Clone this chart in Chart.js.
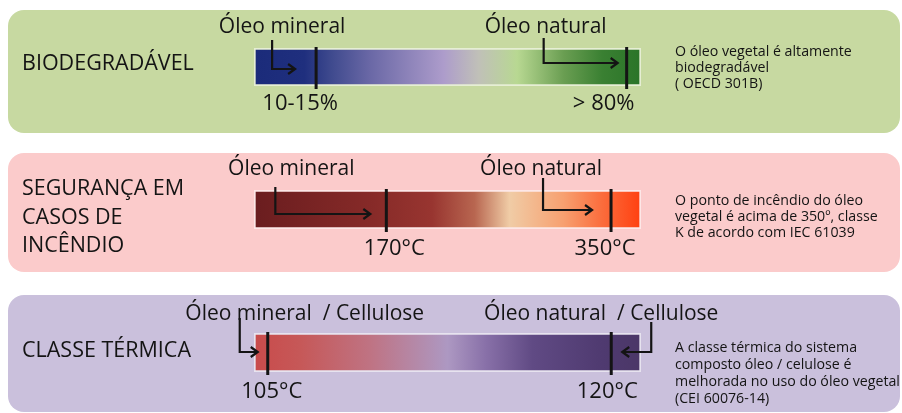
<!DOCTYPE html>
<html>
<head>
<meta charset="utf-8">
<script src="https://cdn.jsdelivr.net/npm/chart.js@4.4.0/dist/chart.umd.min.js"></script>
<style>
  html, body { margin: 0; padding: 0; background: #fff; }
  #wrap { position: relative; width: 902px; height: 413px; overflow: hidden; }
  .panel { position: absolute; left: 0; width: 902px; }
</style>
</head>
<body>
<div id="wrap">
  <div class="panel" style="top:10px;height:123px"><canvas id="c0"></canvas></div>
  <div class="panel" style="top:153px;height:119px"><canvas id="c1"></canvas></div>
  <div class="panel" style="top:295px;height:117px"><canvas id="c2"></canvas></div>
</div>
<script>
// dados
const categoryLines = [['BIODEGRADÁVEL'], ['SEGURANÇA EM', 'CASOS DE', 'INCÊNDIO'], ['CLASSE TÉRMICA']];
const mineralNames = ['Óleo mineral', 'Óleo mineral', 'Óleo mineral  / Cellulose'];
const naturalNames = ['Óleo natural', 'Óleo natural', 'Óleo natural  / Cellulose'];
const mineralValues = [15, 170, 105];
const naturalValues = [80, 350, 120];
const mineralTicks = ['10-15%', '170°C', '105°C'];
const naturalTicks = ['> 80%', '350°C', '120°C'];
const scaleMin = [2, 64, 104.4];
const scaleMax = [83, 374, 121.3];
const notes = [
    ['O óleo vegetal é altamente', 'biodegradável', '( OECD 301B)'],
    ['O ponto de incêndio do óleo', 'vegetal é acima de 350º, classe', 'K de acordo com IEC 61039'],
    ['A classe térmica do sistema', 'composto óleo / celulose é', 'melhorada no uso do óleo vegetal', '(CEI 60076-14)'],
];

// estilo de cada painel
const styles = [
    {
        bg: '#c7d9a1',
        padTop: 38, padBottom: 47,
        stops: [[0, '#1b2b7a'], [0.13, '#1f2f7e'], [0.2, '#3f4a8e'], [0.3, '#6a68a6'], [0.49, '#ad9ccb'],
                [0.58, '#c0c0b8'], [0.68, '#b8d892'], [0.8, '#6a9e52'], [0.9, '#3a8032'], [1, '#2a7428']],
        arrows: [{ vx: -44, y0: -8, y1: 21, tip: -21 }, { vx: -83, y0: -10, y1: 15, tip: -9 }],
        nameDx: [-34, -81], nameY: -15,
        tickDx: [-16, -23], tickY: 62,
        catY: [22],
        noteY: 8, noteStep: 16,
    },
    {
        bg: '#fbcbcb',
        padTop: 37, padBottom: 43,
        stops: [[0, '#6a1d1f'], [0.3, '#862a28'], [0.46, '#983530'], [0.57, '#b86650'], [0.66, '#f0cca6'],
                [0.8, '#f7a070'], [0.9, '#fb6c3c'], [1, '#ff4010']],
        arrows: [{ vx: -111, y0: -3, y1: 24, tip: -16 }, { vx: -68, y0: -12, y1: 20, tip: -19 }],
        nameDx: [-95, -70], nameY: -15,
        tickDx: [8, -6], tickY: 65,
        catY: [5, 34, 62],
        noteY: 15, noteStep: 16,
    },
    {
        bg: '#cac0dc',
        padTop: 38, padBottom: 40,
        stops: [[0, '#c94b4b'], [0.12, '#c65858'], [0.3, '#bf7383'], [0.5, '#ad98c2'], [0.6, '#8870a8'],
                [0.72, '#604a84'], [0.9, '#4f3a70'], [1, '#4b3767']],
        arrows: [{ vx: -28, y0: -15, y1: 19, tip: -10 }, { vx: 40, y0: -11, y1: 19, tip: 11 }],
        nameDx: [37, -10], nameY: -13,
        tickDx: [4, -4], tickY: 65,
        catY: [24],
        noteY: 19, noteStep: 17,
    },
];

const FONT = '"Open Sans", "Noto Sans", sans-serif';

function drawArrow(ctx, x, y0, y1, tipX) {
    const d = Math.sign(tipX - x);
    ctx.beginPath();
    ctx.moveTo(x, y0);
    ctx.lineTo(x, y1);
    ctx.lineTo(tipX, y1);
    ctx.stroke();
    ctx.beginPath();
    ctx.moveTo(tipX - 7 * d, y1 - 5);
    ctx.lineTo(tipX, y1);
    ctx.lineTo(tipX - 7 * d, y1 + 5);
    ctx.stroke();
}

const panelPlugin = {
    id: 'panel',
    beforeDraw(chart, args, opts) {
        const ctx = chart.ctx;
        const s = styles[opts.index];
        ctx.save();
        ctx.fillStyle = s.bg;
        ctx.beginPath();
        ctx.roundRect(8, 0, 892, chart.height, 16);
        ctx.fill();
        ctx.restore();
    },
    afterDatasetsDraw(chart, args, opts) {
        const i = opts.index;
        const s = styles[i];
        const ctx = chart.ctx;
        const x = chart.scales.x;
        const top = chart.chartArea.top;
        const bottom = chart.chartArea.bottom;
        const marks = [x.getPixelForValue(mineralValues[i]), x.getPixelForValue(naturalValues[i])];
        const names = [mineralNames[i], naturalNames[i]];
        const ticks = [mineralTicks[i], naturalTicks[i]];

        ctx.save();
        ctx.strokeStyle = '#141414';
        ctx.lineCap = 'butt';

        // marcadores
        ctx.lineWidth = 3;
        marks.forEach(m => {
            ctx.beginPath();
            ctx.moveTo(m, top - 1);
            ctx.lineTo(m, bottom + 3);
            ctx.stroke();
        });

        // setas
        ctx.lineWidth = 2.2;
        s.arrows.forEach((a, k) => {
            const m = marks[k];
            drawArrow(ctx, m + a.vx, top + a.y0, top + a.y1, m + a.tip);
        });

        ctx.fillStyle = '#141414';
        ctx.textBaseline = 'alphabetic';

        // nomes das séries e valores
        ctx.textAlign = 'center';
        ctx.font = '21px ' + FONT;
        names.forEach((n, k) => ctx.fillText(n, marks[k] + s.nameDx[k], top + s.nameY));
        ctx.font = '22px ' + FONT;
        ticks.forEach((t, k) => ctx.fillText(t, marks[k] + s.tickDx[k], top + s.tickY));

        // categoria
        ctx.textAlign = 'left';
        ctx.font = '21.5px ' + FONT;
        categoryLines[i].forEach((l, k) => ctx.fillText(l, 22, top + s.catY[k]));

        // nota
        ctx.font = '14.2px ' + FONT;
        notes[i].forEach((l, k) => ctx.fillText(l, 675, top + s.noteY + k * s.noteStep));
        ctx.restore();
    },
};

function renderPanel(i) {
    const s = styles[i];
    return new Chart(document.getElementById('c' + i), {
        type: 'bar',
        data: {
            labels: [categoryLines[i].join(' ')],
            datasets: [{
                data: [[scaleMin[i], scaleMax[i]]],
                backgroundColor: function(context) {
                    const area = context.chart.chartArea;
                    if (!area) return s.stops[0][1];
                    const g = context.chart.ctx.createLinearGradient(area.left, 0, area.right, 0);
                    s.stops.forEach(st => g.addColorStop(st[0], st[1]));
                    return g;
                },
                borderColor: 'rgba(255,255,255,0.55)',
                borderWidth: 2,
                borderSkipped: false,
                barPercentage: 1,
                categoryPercentage: 1,
            }],
        },
        options: {
            indexAxis: 'y',
            responsive: true,
            maintainAspectRatio: false,
            animation: false,
            layout: { padding: { left: 254, right: 261, top: s.padTop, bottom: s.padBottom } },
            scales: {
                x: { type: 'linear', min: scaleMin[i], max: scaleMax[i], display: false },
                y: { display: false },
            },
            plugins: {
                legend: { display: false },
                tooltip: { enabled: false },
                panel: { index: i },
            },
        },
        plugins: [panelPlugin],
    });
}

[0, 1, 2].forEach(renderPanel);
</script>
</body>
</html>
